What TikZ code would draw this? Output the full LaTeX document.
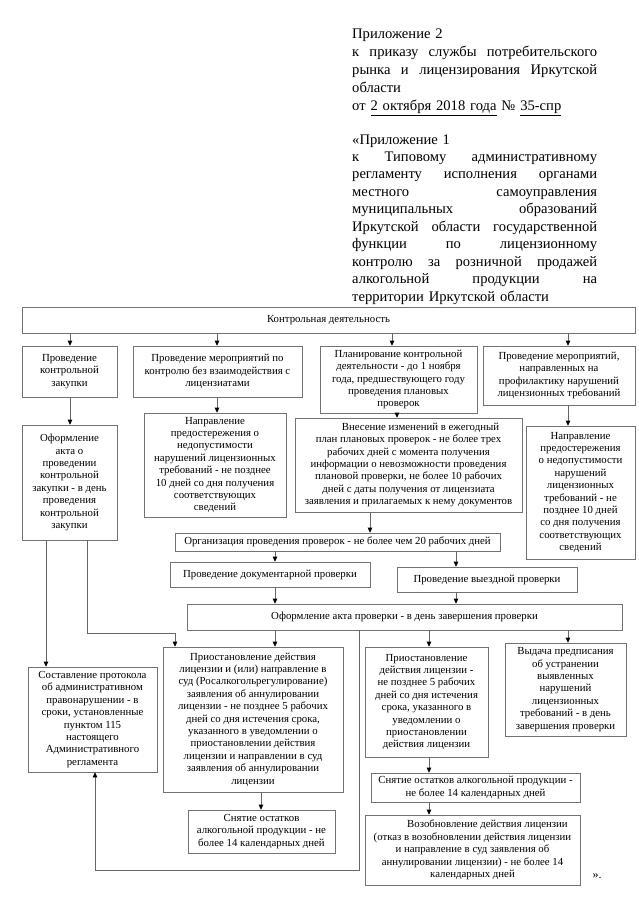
\documentclass[tikz,border=0pt]{standalone}
\usepackage{fontspec}
\setmainfont{Liberation Serif}
\usetikzlibrary{arrows.meta}
\newcommand\mybox[6]{\node[box,minimum width={#4-#2},minimum height={#5-#3}] (#1) at ({(#2+#4)/2},{(#3+#5)/2}) {#6};}
\newcommand\jl[1]{\leavevmode\hbox to 245pt{#1}}
\newcommand\hs{\hspace{0pt plus 1fil}}
\begin{document}
\begin{tikzpicture}[x=1pt,y=-1pt,
  box/.style={draw=black!55, line width=0.6pt, align=center, inner sep=0pt, font=\fontsize{10.8}{12.4}\selectfont},
  arr/.style={draw=black!60, line width=0.6pt, -{Triangle[length=5pt,width=4.5pt,color=black]}},
  hdr/.style={anchor=base west, inner sep=0pt, text width=245pt, align=left},
  quot/.style={inner sep=0pt, font=\fontsize{12}{14}\selectfont}]
\fill[white] (0,0) rectangle (639,905);
\useasboundingbox (0,0) rectangle (639,905);

% header
\node[hdr, font=\fontsize{14.6}{18.2}\selectfont] (h1) at (352,38) {Приложение 2\\
\jl{к \hs приказу \hs службы \hs потребительского}\\
\jl{рынка \hs и \hs лицензирования \hs Иркутской}\\
области\\
от \underline{2 октября 2018 года} № \underline{35-спр}};
\node[hdr, font=\fontsize{14.6}{17.45}\selectfont] (h2) at (352,144) {«Приложение 1\\
\jl{к \hs Типовому \hs административному}\\
\jl{регламенту \hs исполнения \hs органами}\\
\jl{местного \hs самоуправления}\\
\jl{муниципальных \hs образований}\\
\jl{Иркутской \hs области \hs государственной}\\
\jl{функции \hs по \hs лицензионному}\\
\jl{контролю \hs за \hs розничной \hs продажей}\\
\jl{алкогольной \hs продукции \hs на}\\
территории Иркутской области};

% boxes
\mybox{top}{22}{307}{635}{333}{Контрольная деятельность}
\mybox{A1}{22}{346}{117}{397}{Проведение\\контрольной\\закупки}
\mybox{A2}{133}{346}{302}{397}{Проведение мероприятий по\\контролю без взаимодействия с\\лицензиатами}
\mybox{A3}{320}{346}{477}{413}{Планирование контрольной\\деятельности - до 1 ноября\\года, предшествующего году\\проведения плановых\\проверок}
\mybox{A4}{483}{346}{635}{405}{Проведение мероприятий,\\направленных на\\профилактику нарушений\\лицензионных требований}
\mybox{B1}{22}{425}{117}{540}{Оформление\\акта о\\проведении\\контрольной\\закупки - в день\\проведения\\контрольной\\закупки}
\mybox{B2}{144}{413}{286}{517}{Направление\\предостережения о\\недопустимости\\нарушений лицензионных\\требований - не позднее\\10 дней со дня получения\\соответствующих\\сведений}
\mybox{B3}{295}{418}{522}{512}{\hspace*{24pt}Внесение изменений в ежегодный\\план плановых проверок - не более трех\\рабочих дней с момента получения\\информации о невозможности проведения\\плановой проверки, не более 10 рабочих\\дней с даты получения от лицензиата\\заявления и прилагаемых к нему документов}
\mybox{B4}{526}{426}{635}{559}{Направление\\предостережения\\о недопустимости\\нарушений\\лицензионных\\требований - не\\позднее 10 дней\\со дня получения\\соответствующих\\сведений}
\mybox{Org}{175}{533}{500}{551}{Организация проведения проверок - не более чем 20 рабочих дней}
\mybox{Doc}{170}{562}{370}{587}{Проведение документарной проверки}
\mybox{Vyezd}{397}{567}{577}{592}{Проведение выездной проверки}
\mybox{Akt}{187}{604}{622}{630}{Оформление акта проверки - в день завершения проверки}
\mybox{C1}{28}{667}{157}{772}{Составление протокола\\об административном\\правонарушении - в\\сроки, установленные\\пунктом 115\\настоящего\\Административного\\регламента}
\mybox{C2}{163}{647}{343}{792}{Приостановление действия\\лицензии и (или) направление в\\суд (Росалкогольрегулирование)\\заявления об аннулировании\\лицензии - не позднее 5 рабочих\\дней со дня истечения срока,\\указанного в уведомлении о\\приостановлении действия\\лицензии и направлении в суд\\заявления об аннулировании\\лицензии}
\mybox{C3}{365}{647}{488}{757}{Приостановление\\действия лицензии -\\не позднее 5 рабочих\\дней со дня истечения\\срока, указанного в\\уведомлении о\\приостановлении\\действия лицензии}
\mybox{C4}{505}{643}{626}{736}{Выдача предписания\\об устранении\\выявленных\\нарушений\\лицензионных\\требований - в день\\завершения проверки}
\mybox{D2}{188}{810}{335}{853}{Снятие остатков\\алкогольной продукции - не\\более 14 календарных дней}
\mybox{D3}{371}{773}{580}{802}{Снятие остатков алкогольной продукции -\\не более 14 календарных дней}
\mybox{E3}{365}{815}{580}{885}{\hspace*{30pt}Возобновление действия лицензии\\(отказ в возобновлении действия лицензии\\и направление в суд заявления об\\аннулировании лицензии) - не более 14\\календарных дней}
\node[quot] (q) at (597,876) {».};

% x positions of connectors
\coordinate (x46) at (46,0);
\coordinate (x70) at (70,0);
\coordinate (x217) at (217,0);
\coordinate (x261) at (261,0);
\coordinate (x275) at (275,0);
\coordinate (x370) at (370,0);
\coordinate (x392) at (392,0);
\coordinate (x397) at (397,0);
\coordinate (x429) at (429,0);
\coordinate (x456) at (456,0);
\coordinate (x568) at (568,0);
\coordinate (b1) at (87,633);
\coordinate (b2) at (175,633);
\coordinate (l1) at (359,870);
\coordinate (l2) at (95,870);

% connectors
\draw[arr] (top.south -| x70) -- (A1.north -| x70);
\draw[arr] (top.south -| x217) -- (A2.north -| x217);
\draw[arr] (top.south -| x392) -- (A3.north -| x392);
\draw[arr] (top.south -| x568) -- (A4.north -| x568);
\draw[arr] (A1.south -| x70) -- (B1.north -| x70);
\draw[arr] (A2.south -| x217) -- (B2.north -| x217);
\draw[arr] (A3.south -| x397) -- (B3.north -| x397);
\draw[arr] (A4.south -| x568) -- (B4.north -| x568);
\draw[arr] (B3.south -| x370) -- (Org.north -| x370);
\draw[arr] (Org.south -| x275) -- (Doc.north -| x275);
\draw[arr] (Org.south -| x456) -- (Vyezd.north -| x456);
\draw[arr] (Doc.south -| x275) -- (Akt.north -| x275);
\draw[arr] (Vyezd.south -| x456) -- (Akt.north -| x456);
\draw[arr] (Akt.south -| x275) -- (C2.north -| x275);
\draw[arr] (Akt.south -| x429) -- (C3.north -| x429);
\draw[arr] (Akt.south -| x568) -- (C4.north -| x568);
\draw[arr] (C2.south -| x261) -- (D2.north -| x261);
\draw[arr] (C3.south -| x429) -- (D3.north -| x429);
\draw[arr] (D3.south -| x429) -- (E3.north -| x429);
\draw[arr] (B1.south -| x46) -- (C1.north -| x46);
\draw[arr] (B1.south -| b1) -- (b1) -- (b2) -- (C2.north -| b2);
\draw[arr] (Akt.south -| l1) -- (l1) -- (l2) -- (C1.south -| l2);
\end{tikzpicture}
\end{document}
